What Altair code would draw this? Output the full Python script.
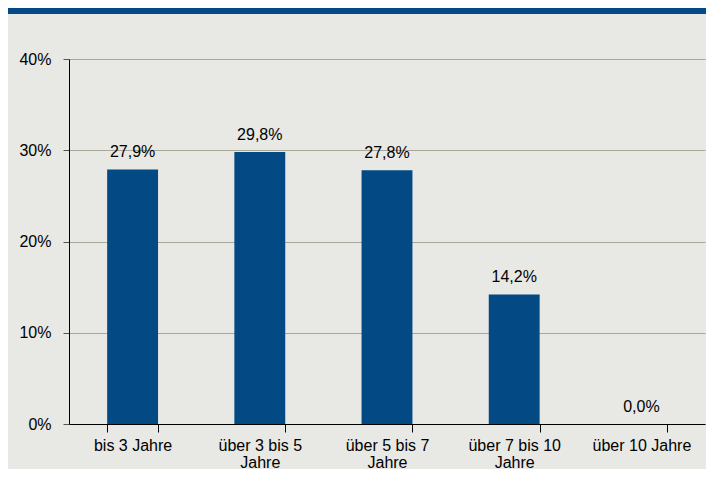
import altair as alt
import pandas as pd

categories = ["bis 3 Jahre", "über 3 bis 5 Jahre", "über 5 bis 7 Jahre", "über 7 bis 10 Jahre", "über 10 Jahre"]
label_lines = [["bis 3 Jahre"], ["über 3 bis 5", "Jahre"], ["über 5 bis 7", "Jahre"], ["über 7 bis 10", "Jahre"], ["über 10 Jahre"]]
values = [0.279, 0.298, 0.278, 0.142, 0.0]
y_ticks = [0, 0.1, 0.2, 0.3, 0.4]

df = pd.DataFrame({
    "cat": categories,
    "val": values,
    "lbl": [f"{v*100:.1f}".replace(".", ",") + "%" for v in values],
})

# label expression for wrapped x labels
parts = []
for c, lines in zip(categories, label_lines):
    arr = "[" + ",".join("'" + l + "'" for l in lines) + "]"
    parts.append(f"datum.value == '{c}' ? {arr} : ")
label_expr = "".join(parts) + "datum.label"

FONT = "Liberation Sans"
BAR = "#034A84"

x_enc = alt.X("cat:N", sort=categories, title=None,
              scale=alt.Scale(paddingInner=0.6, paddingOuter=0.3),
              axis=alt.Axis(labelAngle=0, labelExpr=label_expr, labelFontSize=16,
                            labelFont=FONT, labelColor="#000000", labelLineHeight=17,
                            labelBaseline="top", labelPadding=5,
                            tickBand="extent", tickSize=8, tickColor="#000000",
                            domainColor="#000000", domainWidth=1, grid=False))
y_scale = alt.Scale(domain=[0, 0.4], nice=False)

base = alt.Chart(df)

bars = base.mark_bar(color=BAR).encode(
    x=x_enc,
    y=alt.Y("val:Q", scale=y_scale, title=None,
            axis=alt.Axis(values=y_ticks, labelExpr="format(datum.value, '.0%')",
                          labelFontSize=16, labelFont=FONT, labelColor="#000000",
                          labelPadding=12, tickSize=6, tickColor="#555555",
                          domainColor="#000000", domainWidth=1,
                          grid=True, gridColor="#A8A79A", gridWidth=1.2)),
)

texts = base.mark_text(font=FONT, fontSize=16, color="#000000", baseline="alphabetic", dy=-12).encode(
    x=alt.X("cat:N", sort=categories),
    y=alt.Y("val:Q", scale=y_scale),
    text="lbl:N",
)

banner = alt.Chart(pd.DataFrame({"a": [1]})).mark_rect(color="#044A86").encode(
    x=alt.value(-61), x2=alt.value(700), y=alt.value(-51), y2=alt.value(-45)
)

chart = alt.layer(bars, texts, banner).properties(
    width=636, height=365,
    autosize=alt.AutoSizeParams(type="none"),
    padding={"left": 61, "top": 51, "right": 1, "bottom": 45},
    background="#E8E8E4",
).configure_view(stroke=None)

chart.save("out.html", embed_options={"renderer": "svg", "actions": False})
